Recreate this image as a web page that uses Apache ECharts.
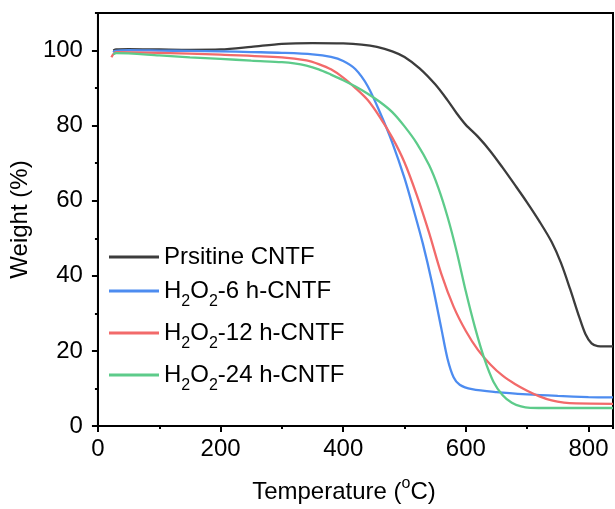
<!DOCTYPE html>
<html>
<head>
<meta charset="utf-8">
<script src="https://cdn.jsdelivr.net/npm/echarts@6/dist/echarts.min.js"></script>
<style>
html,body{margin:0;padding:0;background:#fff;}
#chart{width:615px;height:509px;}
</style>
</head>
<body>
<div id="chart"></div>
<script>
// ---- data ----
var seriesNames = ['Prsitine CNTF', 'H2O2-6 h-CNTF', 'H2O2-12 h-CNTF', 'H2O2-24 h-CNTF'];
var seriesColors = ['#3c3c3c', '#4d8cf0', '#f26a6a', '#5dcb8a'];

var pristine = [[25,100.0],[30,100.3],[50,100.4],[100,100.3],[150,100.2],[200,100.3],[250,101.0],[300,101.8],[350,102.0],[400,101.9],[430,101.6],[455,101.0],[480,99.8],[500,98.3],[525,95.2],[550,91.0],[570,86.8],[585,83.3],[600,80.2],[620,77.0],[640,73.2],[660,68.8],[680,64.2],[700,59.5],[720,54.5],[740,49.0],[755,43.5],[770,36.5],[785,29.0],[795,24.5],[805,22.0],[815,21.3],[840,21.2]];

var h6 = [[25,99.5],[28,99.9],[50,100.1],[100,100.0],[150,99.9],[200,99.8],[250,99.6],[300,99.4],[350,99.0],[380,98.3],[400,97.2],[420,95.0],[440,90.5],[460,83.5],[480,75.5],[500,66.0],[515,57.5],[530,48.5],[545,38.0],[560,26.0],[570,18.0],[580,13.0],[590,11.0],[610,9.8],[650,9.0],[700,8.4],[750,8.0],[800,7.7],[840,7.6]];

var h12 = [[22,98.2],[25,99.0],[30,99.6],[100,99.4],[200,98.9],[300,98.2],[340,97.4],[360,96.4],[380,95.0],[400,92.8],[420,90.0],[440,86.8],[460,82.2],[480,76.8],[500,70.2],[520,61.5],[540,51.5],[560,40.5],[580,31.8],[600,25.3],[620,20.2],[640,16.4],[660,13.4],[680,11.2],[700,9.4],[720,7.9],[740,6.8],[760,6.2],[780,6.0],[840,5.9]];

var h24 = [[25,99.0],[30,99.3],[100,98.7],[150,98.2],[200,97.8],[250,97.3],[300,96.9],[320,96.6],[340,96.0],[360,95.0],[380,93.6],[400,92.1],[420,90.4],[440,88.5],[460,86.3],[480,83.6],[500,79.8],[520,75.3],[540,69.5],[555,63.5],[570,55.8],[585,46.5],[600,35.8],[615,26.2],[630,18.0],[645,11.8],[660,8.2],[675,6.2],[690,5.2],[705,4.85],[740,4.8],[840,4.8]];

var seriesData = [pristine, h6, h12, h24];

var xMin = 0, xMax = 840, xInterval = 200, xMinorInterval = 100;
var yMin = 0, yMax = 110, yInterval = 20, yMinorInterval = 10;
var xTitle = '{n|Temperature (}{sup|o}{n|C)}';
var yTitle = 'Weight (%)';

// ---- chart ----
var FONT = 'Liberation Sans, Arial, Helvetica, sans-serif';
var chart = echarts.init(document.getElementById('chart'), null, {renderer: 'canvas'});

function legendFmt(name) {
  if (name.indexOf('H2O2') === 0) {
    return '{n|H}{s|2}{n|O}{s|2}{n|' + name.slice(4) + '}';
  }
  return '{n|' + name + '}';
}

var series = seriesNames.map(function (n, i) {
  return {
    name: n,
    type: 'line',
    xAxisIndex: 0,
    yAxisIndex: 0,
    data: seriesData[i],
    showSymbol: false,
    symbol: 'none',
    smooth: 0.3,
    lineStyle: {color: seriesColors[i], width: 2.3},
    itemStyle: {color: seriesColors[i]},
    z: 3
  };
});

var legendTops = [245, 272, 314, 356];
var legends = seriesNames.map(function (n, i) {
  return {
    orient: 'vertical',
    left: 109,
    top: legendTops[i],
    padding: 0,
    itemWidth: 50,
    itemHeight: 3,
    icon: 'rect',
    data: [n],
    formatter: legendFmt,
    textStyle: {
      fontFamily: FONT,
      color: '#000',
      rich: {
        n: {fontSize: 24, fontFamily: FONT, color: '#000', lineHeight: 30},
        s: {fontSize: 16, fontFamily: FONT, color: '#000', lineHeight: 8, padding: [22, 0, 0, 0]}
      }
    }
  };
});

var option = {
  animation: false,
  backgroundColor: '#fff',
  grid: {left: 97, right: 2, top: 13, bottom: 81, show: true, borderColor: '#000', borderWidth: 2, backgroundColor: 'transparent'},
  legend: legends,
  xAxis: [{
    type: 'value',
    min: xMin, max: xMax, interval: xInterval,
    position: 'bottom',
    name: xTitle,
    nameLocation: 'middle',
    nameGap: 50,
    nameTextStyle: {
      fontFamily: FONT, color: '#000', padding: [0, 23, 0, 0],
      rich: {
        n: {fontSize: 24, fontFamily: FONT, color: '#000'},
        sup: {fontSize: 16, fontFamily: FONT, color: '#000', padding: [0, 0, 16, 0]}
      }
    },
    axisLine: {show: true, lineStyle: {color: '#000', width: 2}},
    axisTick: {show: true, inside: false, length: 6, lineStyle: {color: '#000', width: 2}},
    axisLabel: {fontSize: 24, fontFamily: FONT, color: '#000', margin: 11, showMaxLabel: false},
    splitLine: {show: false}
  }, {
    type: 'value',
    min: xMin, max: xMax, interval: xMinorInterval,
    position: 'bottom',
    axisLine: {show: false},
    axisTick: {show: true, inside: false, length: 3, lineStyle: {color: '#000', width: 2}},
    axisLabel: {show: false},
    splitLine: {show: false}
  }],
  yAxis: [{
    type: 'value',
    min: yMin, max: yMax, interval: yInterval,
    position: 'left',
    name: yTitle,
    nameLocation: 'middle',
    nameGap: 49,
    nameRotate: 90,
    nameTextStyle: {fontSize: 24, fontFamily: FONT, color: '#000'},
    axisLine: {show: true, lineStyle: {color: '#000', width: 2}},
    axisTick: {show: true, inside: false, length: 6, lineStyle: {color: '#000', width: 2}},
    axisLabel: {fontSize: 24, fontFamily: FONT, color: '#000', margin: 15, showMaxLabel: false},
    splitLine: {show: false}
  }, {
    type: 'value',
    min: yMin, max: yMax, interval: yMinorInterval,
    position: 'left',
    axisLine: {show: false},
    axisTick: {show: true, inside: false, length: 3, lineStyle: {color: '#000', width: 2}},
    axisLabel: {show: false},
    splitLine: {show: false}
  }],
  series: series
};
chart.setOption(option);
</script>
</body>
</html>
